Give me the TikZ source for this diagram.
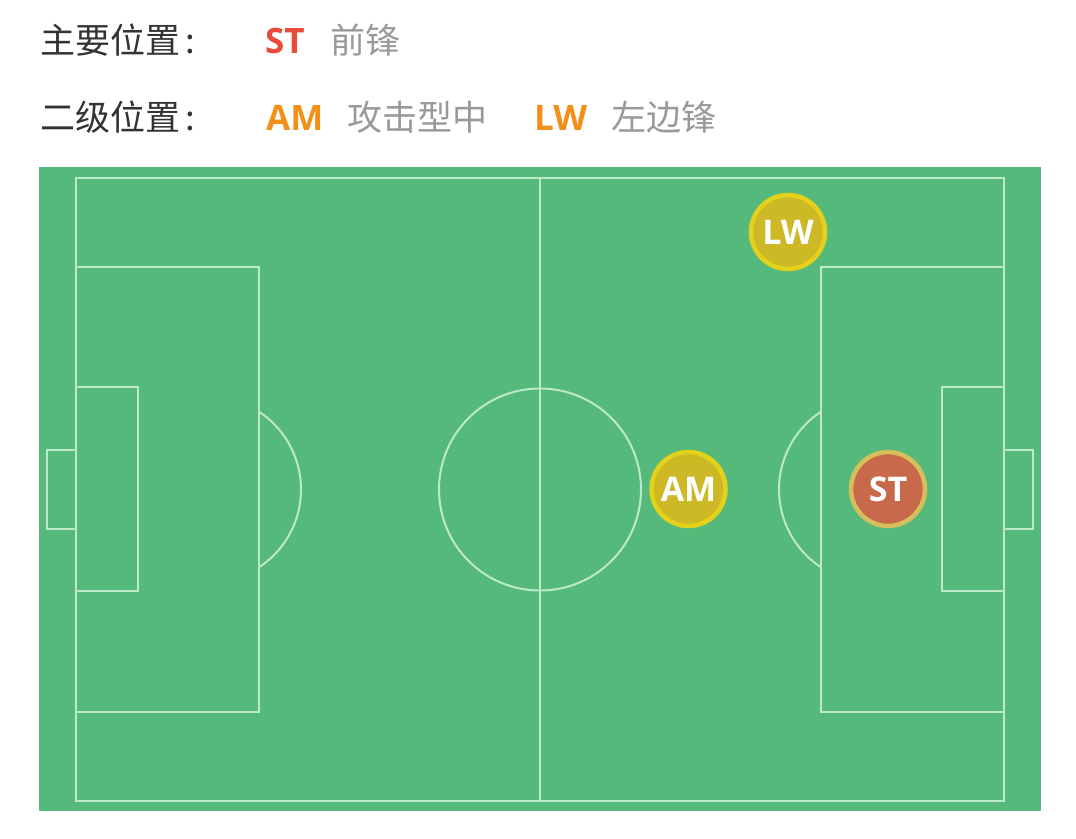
\documentclass[tikz,border=0pt]{standalone}
\usepackage{fontspec}
\setmainfont{Noto Sans CJK SC}
\newfontfamily\latinb{Open Sans}
\definecolor{grass}{HTML}{55B97B}
\definecolor{pline}{HTML}{BDE8C9}
\definecolor{darktxt}{HTML}{333333}
\definecolor{graytxt}{HTML}{999999}
\definecolor{redtxt}{HTML}{E74C3C}
\definecolor{orangetxt}{HTML}{F39019}
\definecolor{yfill}{HTML}{CDB925}
\definecolor{yborder}{HTML}{E3D11B}
\definecolor{rfill}{HTML}{C8694B}
\definecolor{rborder}{HTML}{D6BE5A}
\tikzset{
  pl/.style={draw=pline, line width=2pt},
  lbl/.style={anchor=base west, inner sep=0pt, font=\fontsize{35}{35}\selectfont},
  code/.style={anchor=base west, inner sep=0pt, font=\latinb\bfseries\fontsize{35}{35}\selectfont},
  player/.style={circle, minimum size=74pt, inner sep=0pt, line width=4.5pt, text=white, font=\latinb\bfseries\fontsize{34}{34}\selectfont},
  secondary/.style={player, fill=yfill, draw=yborder},
  primary/.style={player, fill=rfill, draw=rborder}
}
\begin{document}
\begin{tikzpicture}[x=1pt,y=-1pt]
\useasboundingbox (0,0) rectangle (1076,838);
% header
\node[lbl, text=darktxt] (h1) at (40,53) {主要位置\hspace{5pt}:};
\node[code, text=redtxt] (st1) at (265,53) {ST};
\node[lbl, text=graytxt] (st1n) at (330,53) {前锋};
\node[lbl, text=darktxt] (h2) at (40,130) {二级位置\hspace{5pt}:};
\node[code, text=orangetxt] (am1) at (266,130) {AM};
\node[lbl, text=graytxt] (am1n) at (347,130) {攻击型中};
\node[code, text=orangetxt] (lw1) at (534,130) {LW};
\node[lbl, text=graytxt] (lw1n) at (611,130) {左边锋};
% pitch
\fill[grass] (39,167) rectangle (1041,811);
\draw[pl] (76,178) rectangle (1004,801);
\draw[pl] (539.5,178) -- (539.5,801);
\draw[pl] (540,489.5) circle[radius=101];
% left
\draw[pl] (76,267) rectangle (259,712);
\draw[pl] (76,387) rectangle (138,591);
\draw[pl] (47,450) rectangle (76,529);
\begin{scope}
\clip (259,300) rectangle (400,700);
\draw[pl] (208,489.5) circle[radius=93];
\end{scope}
% right
\draw[pl] (821,267) rectangle (1004,712);
\draw[pl] (942,387) rectangle (1004,591);
\draw[pl] (1004,450) rectangle (1033,529);
\begin{scope}
\clip (680,300) rectangle (821,700);
\draw[pl] (872,489.5) circle[radius=93];
\end{scope}
% players
\node[secondary] (lw) at (788,232) {LW};
\node[secondary] (am) at (688.5,489) {AM};
\node[primary] (st) at (888,489) {ST};
\end{tikzpicture}
\end{document}
